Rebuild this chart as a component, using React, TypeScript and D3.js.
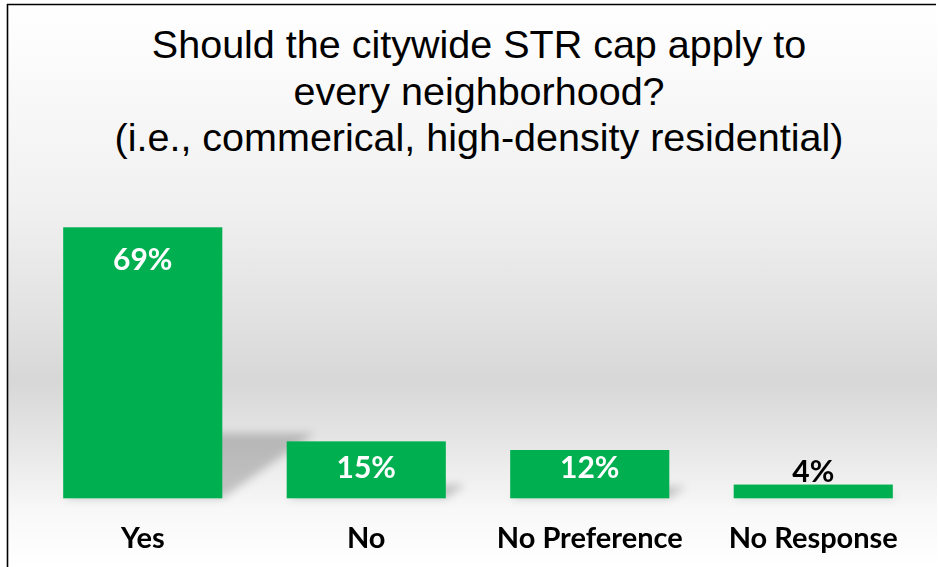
import React from "react";
import * as d3 from "d3";

const titleLines = [
  "Should the citywide STR cap apply to",
  "every neighborhood?",
  "(i.e., commerical, high-density residential)",
];
const categories = ["Yes", "No", "No Preference", "No Response"];
const values = [69, 14.5, 12.3, 3.5];

const W = 938;
const H = 567;

export default function App() {
  const x = d3
    .scaleBand<string>()
    .domain(categories)
    .range([31, 925])
    .paddingInner(0.288)
    .paddingOuter(0.144);
  const base = 498.3;
  const y = d3.scaleLinear().domain([0, 69]).range([base, 227.3]);
  const green = "#00B050";

  return (
    <svg
      width={W}
      height={H}
      style={{ position: "absolute", left: 0, top: 0, display: "block" }}
    >
      <defs>
        <linearGradient id="bg" x1="0" y1="0" x2="0" y2="1" gradientUnits="objectBoundingBox">
          <stop offset="0" stopColor="#ffffff" />
          <stop offset="0.35" stopColor="#f1f1f1" />
          <stop offset="0.55" stopColor="#e2e2e2" />
          <stop offset="0.67" stopColor="#d7d7d7" />
          <stop offset="0.78" stopColor="#e6e6e6" />
          <stop offset="0.9" stopColor="#f8f8f8" />
          <stop offset="1" stopColor="#ffffff" />
        </linearGradient>
        <filter id="blur" x="-50%" y="-50%" width="200%" height="200%">
          <feGaussianBlur stdDeviation="4" />
        </filter>
      </defs>
      <rect x={0} y={0} width={W} height={H} fill="#ffffff" />
      <rect x={7} y={4} width={930} height={H - 4} fill="url(#bg)" />
      <line x1={7.5} y1={4} x2={7.5} y2={H} stroke="#000" strokeWidth={1.6} />
      <line x1={7} y1={4.5} x2={936} y2={4.5} stroke="#000" strokeWidth={1.6} />

      <g
        fontFamily="'Liberation Sans', Arial, sans-serif"
        fontSize={39.5}
        fill="#000"
        textAnchor="middle"
      >
        {titleLines.map((t, i) => (
          <text key={i} x={479} y={58 + i * 46.5}>
            {t}
          </text>
        ))}
      </g>

      <g filter="url(#blur)">
        {categories.map((c, i) => {
          const x0 = x(c)!;
          const x1 = x0 + x.bandwidth();
          const h = base - y(values[i]);
          const dx = h * 0.34;
          const sh = h * 0.24;
          const pts = [
            [x0, base],
            [x1, base],
            [x1 + dx, base - sh],
            [x0 + dx, base - sh],
          ]
            .map((p) => p.join(","))
            .join(" ");
          return <polygon key={c} points={pts} fill="#000" opacity={0.2} />;
        })}
      </g>

      {categories.map((c, i) => {
        const top = y(values[i]);
        return (
          <rect
            key={c}
            x={x(c)!}
            y={top}
            width={x.bandwidth()}
            height={base - top}
            fill={green}
          />
        );
      })}

      <g fontFamily="Lato, 'Open Sans', sans-serif" fontWeight="bold" textAnchor="middle">
        {categories.map((c, i) => {
          const top = y(values[i]);
          const h = base - top;
          const inside = h > 30;
          const ly = inside ? Math.min(top + 43, base - 20) : top - 3;
          return (
            <text
              key={c}
              x={x(c)! + x.bandwidth() / 2}
              y={ly}
              fontSize={30}
              fill={inside ? "#ffffff" : "#000000"}
            >
              {Math.round(values[i]) + "%"}
            </text>
          );
        })}
        {categories.map((c) => (
          <text key={c} x={x(c)! + x.bandwidth() / 2} y={548} fontSize={29} fill="#000">
            {c}
          </text>
        ))}
      </g>
    </svg>
  );
}
